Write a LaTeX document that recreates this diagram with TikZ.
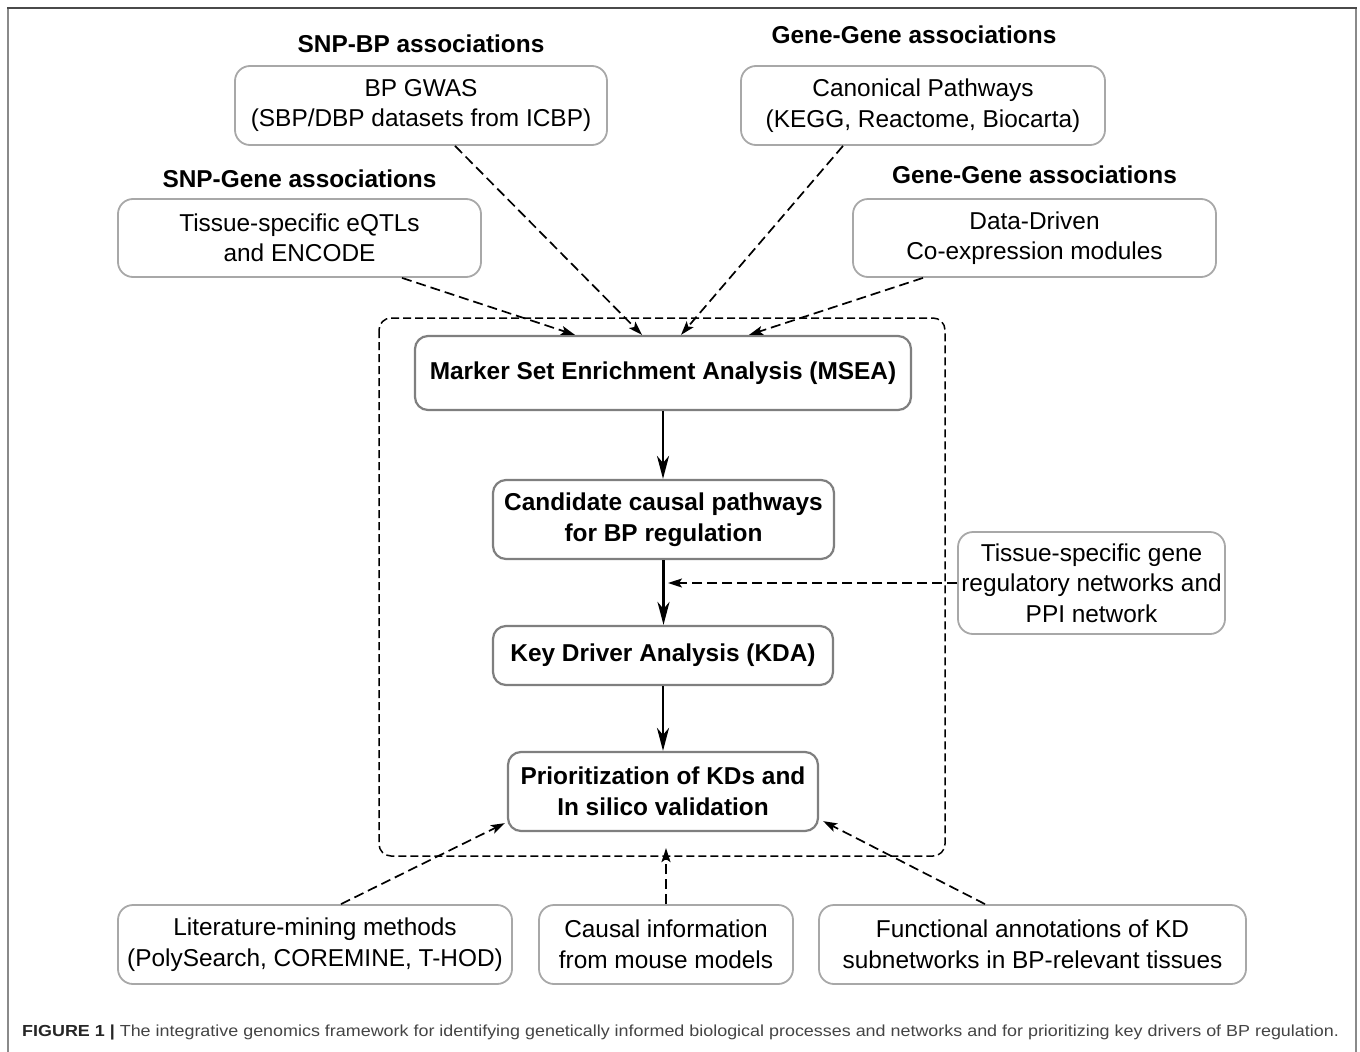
\documentclass[tikz,border=0pt]{standalone}
\usepackage{fontspec}
\setmainfont{Liberation Sans}
\newfontfamily\capfont[FakeStretch=1.12]{Liberation Sans}
\usetikzlibrary{positioning, arrows.meta, calc}
\definecolor{srcEdge}{HTML}{a8a8a8}
\definecolor{coreEdge}{HTML}{7f7f7f}
\definecolor{frameTop}{HTML}{4a4a4a}
\definecolor{frameSide}{HTML}{8a8a8a}
\definecolor{capText}{HTML}{444444}
\newcommand{\boxfont}{\fontsize{24.4}{30.5}\selectfont}

\begin{document}
\begin{tikzpicture}[x=1pt, y=-1pt,
  src/.style={draw=srcEdge, line width=1.8pt, rounded corners=15pt, align=center, font=\boxfont, inner sep=0pt},
  core/.style={draw=coreEdge, line width=2.2pt, rounded corners=13pt, align=center, font=\boxfont\bfseries, inner sep=0pt},
  hdr/.style={font=\boxfont\bfseries, inner sep=0pt},
  feed/.style={line width=1.7pt, dash pattern=on 10pt off 5pt, -{Stealth[length=14pt, width=9pt, inset=3pt]}},
  flow/.style={line width=2.6pt, -{Stealth[length=23pt, width=12pt, inset=7pt]}}]
\useasboundingbox (0,0) rectangle (1360,1052);
\draw[frameSide, line width=2pt] (8,1052) -- (8,8);
\draw[frameSide, line width=2pt] (1356,8) -- (1356,1052);
\draw[frameTop, line width=2pt] (7,8) -- (1357,8);
\draw[line width=1.5pt, dash pattern=on 8pt off 4pt, rounded corners=12pt] (379,318) rectangle (945,856);
\node[src, minimum width=372pt, minimum height=79pt] (gwas) at (421,105.5) {BP GWAS\\(SBP/DBP datasets from ICBP)};
\node[src, minimum width=364pt, minimum height=79pt] (canon) at (923,105.5) {Canonical Pathways\\(KEGG, Reactome, Biocarta)};
\node[src, minimum width=363pt, minimum height=78pt] (eqtl) at (299.5,238) {Tissue-specific eQTLs\\and ENCODE};
\node[src, minimum width=363pt, minimum height=78pt] (coexp) at (1034.5,238) {Data-Driven\\Co-expression modules};
\node[hdr, above=12pt of gwas] (gwashdr) {SNP-BP associations};
\node[hdr, above=21pt of canon, xshift=-9pt] (canonhdr) {Gene-Gene associations};
\node[hdr, above=10pt of eqtl] (eqtlhdr) {SNP-Gene associations};
\node[hdr, above=14pt of coexp] (coexphdr) {Gene-Gene associations};
\node[core, minimum width=496pt, minimum height=74pt] (msea) at (663,373) {Marker Set Enrichment Analysis (MSEA)};
\node[core, minimum width=341pt, minimum height=79pt] (cand) at (663.5,519.5) {Candidate causal pathways\\for BP regulation};
\node[core, minimum width=340pt, minimum height=59pt] (kda) at (663,655.5) {Key Driver Analysis (KDA)};
\node[core, minimum width=310pt, minimum height=79pt] (prio) at (663,791.5) {Prioritization of KDs and\\In silico validation};
\node[src, minimum width=267pt, minimum height=102pt] (netw) at (1091.5,583) {Tissue-specific gene\\regulatory networks and\\PPI network};
\node[src, minimum width=394pt, minimum height=79pt] (lit) at (315,944.5) {Literature-mining methods\\(PolySearch, COREMINE, T-HOD)};
\node[src, minimum width=254pt, minimum height=79pt] (mouse) at (666,944.5) {Causal information\\from mouse models};
\node[src, minimum width=427pt, minimum height=79pt] (func) at (1032.5,944.5) {Functional annotations of KD\\subnetworks in BP-relevant tissues};
\draw[feed] ($(eqtl.south)+(102.5,0)$) -- ($(msea.north)+(-88,0)$);
\draw[feed] ($(gwas.south)+(34,0)$) -- ($(msea.north)+(-21,0)$);
\draw[feed] ($(canon.south)+(-80,0)$) -- ($(msea.north)+(18,0)$);
\draw[feed] ($(coexp.south)+(-111.5,0)$) -- ($(msea.north)+(86,0)$);
\draw[flow] (msea.south) -- (msea.south |- cand.north);
\draw[flow] (cand.south) -- (cand.south |- kda.north);
\draw[flow] (kda.south) -- (kda.south |- prio.north);
\draw[feed] (netw.west) -- ($(netw.west -| kda.north)+(5,0)$);
\draw[feed] ($(lit.north)+(26,0)$) -- ($(prio.south west)+(-2,-9)$);
\draw[feed] (mouse.north) -- ($(mouse.north |- prio.south)+(0,16)$);
\draw[feed] ($(func.north)+(-47.5,0)$) -- ($(prio.south east)+(4,-11)$);
\node[anchor=base west, font=\capfont\fontsize{16}{20}\selectfont, text=capText, inner sep=0pt] (cap) at (22,1036) {{\bfseries\color{black!85}FIGURE 1 |} The integrative genomics framework for identifying genetically informed biological processes and networks and for prioritizing key drivers of BP regulation.};
\end{tikzpicture}
\end{document}
